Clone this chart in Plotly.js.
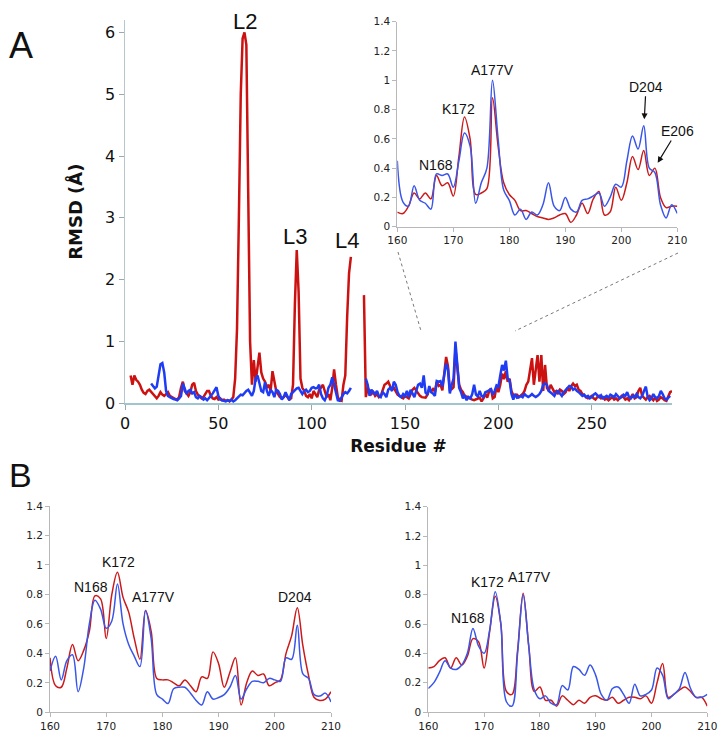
<!DOCTYPE html>
<html><head><meta charset="utf-8">
<script src="https://cdn.plot.ly/plotly-3.0.1.min.js"></script>
<style>html,body{margin:0;padding:0;background:#fff}#chart{width:726px;height:745px}</style>
</head><body><div id="chart"></div><script>
// ---------- Panel A (main), RMSD per residue ----------
// red series, residues 3..121
const redRun1Start = 3;
const redRun1 = [
  0.45,0.30,0.45,0.38,0.35,0.30,0.22,
  0.17,0.15,0.20,0.22,0.18,0.14,0.10,0.08,0.12,0.18,
  0.14,0.12,0.15,0.18,0.12,0.10,0.08,0.07,0.06,0.10,
  0.25,0.35,0.20,0.15,0.12,0.18,0.30,0.33,0.20,0.14,
  0.10,0.08,0.10,0.14,0.20,0.20,0.12,0.08,0.07,0.10,
  0.06,0.08,0.05,0.06,0.04,0.05,0.03,0.06,0.10,0.40,
  1.20,3.00,5.00,5.90,6.00,5.80,3.20,1.00,0.30,0.70,
  0.35,0.55,0.82,0.50,0.40,0.35,0.25,0.30,0.20,0.52,
  0.35,0.20,0.15,0.10,0.08,0.10,0.14,0.10,0.06,0.08,
  0.30,1.60,2.48,1.80,0.40,0.25,0.20,0.12,0.10,0.15,
  0.08,0.20,0.14,0.10,0.22,0.25,0.30,0.20,0.10,0.15,
  0.05,0.25,0.55,0.30,0.10,0.05,0.04,0.30,0.45,1.40,
  2.10,2.37
];
// red series, residues 128..159
const redRun2Start = 128;
const redRun2 = [
  1.75,0.10,
  0.25,0.20,0.15,0.18,0.12,0.15,0.10,0.12,0.20,0.30,
  0.32,0.35,0.28,0.22,0.25,0.20,0.14,0.12,0.10,0.08,
  0.12,0.10,0.08,0.15,0.22,0.25,0.20,0.15,0.12,0.10
];
// red series, residues 211..293
const redRun3Start = 211;
const redRun3 = [
  0.10,0.12,0.15,0.20,0.30,0.35,0.55,0.73,0.30,
  0.60,0.78,0.35,0.78,0.20,0.62,0.25,0.20,0.30,0.25,
  0.18,0.20,0.15,0.22,0.20,0.15,0.18,0.25,0.20,0.28,
  0.32,0.28,0.30,0.22,0.20,0.15,0.12,0.10,0.08,0.10,
  0.12,0.08,0.06,0.10,0.12,0.08,0.10,0.06,0.08,0.05,
  0.07,0.10,0.06,0.08,0.05,0.08,0.12,0.10,0.06,0.08,
  0.05,0.10,0.15,0.08,0.10,0.20,0.25,0.12,0.08,0.06,
  0.10,0.12,0.08,0.05,0.10,0.04,0.06,0.10,0.08,0.05,
  0.04,0.12,0.18,0.20
];
// blue series, residues 14..121
const blueRun1Start = 14;
const blueRun1 = [
  0.32,0.28,0.24,0.27,0.45,0.63,
  0.65,0.50,0.20,0.12,0.10,0.08,0.07,0.06,0.05,0.08,
  0.12,0.32,0.22,0.15,0.20,0.22,0.16,0.18,0.10,0.08,
  0.12,0.10,0.06,0.08,0.05,0.08,0.12,0.16,0.20,0.26,
  0.12,0.06,0.05,0.04,0.03,0.05,0.04,0.06,0.03,0.05,
  0.08,0.12,0.14,0.13,0.17,0.20,0.22,0.18,0.12,0.20,
  0.40,0.45,0.30,0.20,0.18,0.34,0.20,0.12,0.22,0.18,
  0.10,0.22,0.20,0.15,0.06,0.10,0.18,0.10,0.05,0.15,
  0.18,0.20,0.24,0.25,0.20,0.15,0.20,0.22,0.18,0.20,
  0.25,0.26,0.24,0.25,0.30,0.15,0.08,0.05,0.12,0.25,
  0.30,0.42,0.30,0.15,0.05,0.04,0.10,0.15,0.18,0.16,
  0.20,0.25
];
// blue series, residues 129..159
const blueRun2Start = 129;
const blueRun2 = [
  0.40,
  0.30,0.12,0.22,0.18,0.15,0.20,0.12,0.10,0.18,0.15,
  0.10,0.22,0.25,0.20,0.35,0.30,0.18,0.12,0.10,0.15,
  0.12,0.20,0.10,0.22,0.15,0.10,0.20,0.30,0.32,0.25
];
// blue series, residues 211..292
const blueRun3Start = 211;
const blueRun3 = [
  0.10,0.12,0.10,0.15,0.12,0.10,0.12,0.15,0.12,
  0.10,0.12,0.15,0.20,0.30,0.32,0.30,0.20,0.18,0.15,
  0.12,0.18,0.20,0.15,0.12,0.18,0.22,0.25,0.28,0.27,
  0.22,0.24,0.20,0.18,0.15,0.12,0.14,0.10,0.12,0.08,
  0.10,0.14,0.16,0.12,0.10,0.13,0.08,0.10,0.12,0.09,
  0.14,0.12,0.10,0.15,0.12,0.08,0.10,0.14,0.12,0.18,
  0.10,0.08,0.12,0.10,0.15,0.10,0.08,0.12,0.20,0.27,
  0.10,0.05,0.08,0.15,0.10,0.08,0.12,0.20,0.15,0.08,
  0.06,0.10,0.12
];
// ---------- Window residues 160..210 (inset of A, and the main curve there) ----------
const windowStart = 160;
const insetRed = [
  0.10,0.09,0.14,0.23,0.19,0.23,0.19,0.35,0.28,0.30,
  0.21,0.48,0.75,0.60,0.22,0.23,0.26,0.88,0.55,0.30,
  0.22,0.18,0.11,0.11,0.09,0.07,0.06,0.05,0.06,0.08,
  0.09,0.03,0.08,0.16,0.09,0.19,0.24,0.08,0.10,0.27,
  0.18,0.30,0.48,0.39,0.52,0.35,0.40,0.20,0.13,0.14,0.14
];
const insetBlue = [
  0.45,0.17,0.14,0.28,0.18,0.16,0.12,0.36,0.35,0.36,
  0.27,0.45,0.64,0.55,0.16,0.30,0.40,1.00,0.60,0.25,
  0.18,0.08,0.12,0.05,0.10,0.08,0.15,0.30,0.14,0.11,
  0.20,0.12,0.10,0.18,0.19,0.21,0.23,0.14,0.20,0.29,
  0.27,0.45,0.62,0.53,0.69,0.40,0.37,0.15,0.06,0.15,0.09
];
// ---------- Panel B left ----------
const bLeftRed = [
  0.37,0.18,0.17,0.30,0.46,0.35,0.42,0.55,0.79,0.77,
  0.50,0.80,0.95,0.78,0.68,0.50,0.36,0.69,0.55,0.23,
  0.22,0.22,0.20,0.18,0.22,0.18,0.14,0.24,0.23,0.41,
  0.33,0.17,0.27,0.37,0.05,0.20,0.28,0.25,0.26,0.18,
  0.20,0.22,0.40,0.52,0.71,0.45,0.25,0.10,0.08,0.09,0.14
];
const bLeftBlue = [
  0.28,0.38,0.22,0.35,0.39,0.14,0.30,0.60,0.76,0.70,
  0.57,0.62,0.87,0.60,0.46,0.38,0.31,0.69,0.50,0.12,
  0.09,0.06,0.16,0.17,0.17,0.13,0.08,0.05,0.14,0.09,
  0.10,0.12,0.17,0.25,0.09,0.16,0.21,0.21,0.20,0.23,
  0.22,0.21,0.37,0.36,0.59,0.26,0.23,0.12,0.11,0.13,0.07
];
// ---------- Panel B right ----------
const bRightRed = [
  0.30,0.31,0.35,0.37,0.30,0.37,0.32,0.38,0.50,0.48,
  0.30,0.55,0.79,0.60,0.14,0.12,0.42,0.81,0.45,0.14,
  0.17,0.08,0.08,0.04,0.11,0.08,0.05,0.08,0.06,0.10,
  0.11,0.09,0.08,0.10,0.06,0.08,0.10,0.10,0.09,0.11,
  0.06,0.20,0.33,0.10,0.12,0.15,0.17,0.14,0.10,0.10,0.04
];
const bRightBlue = [
  0.16,0.20,0.27,0.35,0.30,0.29,0.32,0.40,0.57,0.45,
  0.40,0.56,0.82,0.60,0.07,0.04,0.40,0.80,0.45,0.15,
  0.09,0.11,0.06,0.05,0.18,0.15,0.31,0.29,0.25,0.32,
  0.25,0.12,0.08,0.16,0.17,0.12,0.06,0.19,0.11,0.12,
  0.15,0.30,0.25,0.09,0.12,0.16,0.27,0.16,0.10,0.10,0.12
];
const mainXTicks = [0, 50, 100, 150, 200, 250];
const winXTicks = [160, 170, 180, 190, 200, 210];

// ---------- build ----------
function xsFrom(start, arr){ return arr.map((_, i) => start + i); }
function joinRuns(runs){
  const x = [], y = [];
  runs.forEach((r, k) => {
    if (k > 0 && r[0] !== x[x.length-1] + 1) { x.push(r[0] - 0.5); y.push(null); }
    xsFrom(r[0], r[1]).forEach((v, i) => { x.push(v); y.push(r[1][i]); });
  });
  return {x, y};
}
const redMain = joinRuns([[redRun1Start, redRun1],[redRun2Start, redRun2],[windowStart, insetRed],[redRun3Start, redRun3]]);
const blueMain = joinRuns([[blueRun1Start, blueRun1],[blueRun2Start, blueRun2],[windowStart, insetBlue],[blueRun3Start, blueRun3]]);

const RED = '#cc1111', BLUE = '#1f3cf5';
const RED2 = '#cc1a1a', BLUE2 = '#3a56e8';
const winX = xsFrom(windowStart, insetRed);

const traces = [
  {x: redMain.x, y: redMain.y, xaxis:'x', yaxis:'y', mode:'lines', line:{color:RED, width:2.5}, connectgaps:false},
  {x: blueMain.x, y: blueMain.y, xaxis:'x', yaxis:'y', mode:'lines', line:{color:BLUE, width:2.5}, connectgaps:false},
  {x: winX, y: insetRed, xaxis:'x2', yaxis:'y2', mode:'lines', line:{color:RED2, width:1.5, shape:'spline', smoothing:1}},
  {x: winX, y: insetBlue, xaxis:'x2', yaxis:'y2', mode:'lines', line:{color:BLUE2, width:1.5, shape:'spline', smoothing:1}},
  {x: winX, y: bLeftRed, xaxis:'x3', yaxis:'y3', mode:'lines', line:{color:RED2, width:1.5, shape:'spline', smoothing:1}},
  {x: winX, y: bLeftBlue, xaxis:'x3', yaxis:'y3', mode:'lines', line:{color:BLUE2, width:1.5, shape:'spline', smoothing:1}},
  {x: winX, y: bRightRed, xaxis:'x4', yaxis:'y4', mode:'lines', line:{color:RED2, width:1.5, shape:'spline', smoothing:1}},
  {x: winX, y: bRightBlue, xaxis:'x4', yaxis:'y4', mode:'lines', line:{color:BLUE2, width:1.5, shape:'spline', smoothing:1}}
];

const W = 726, H = 745;
const px = v => v / W, py = v => 1 - v / H;
const TICKF = 'DejaVu Sans, sans-serif';
const ARIAL = 'Liberation Sans, Arial, sans-serif';

function smallX(dom, anchor){
  return {domain: dom, anchor: anchor, range:[160,210], tickvals: winXTicks, showline:true, linecolor:'#b8b8b8', linewidth:1,
    ticks:'outside', ticklen:4, tickcolor:'#b8b8b8', showgrid:false, zeroline:false,
    tickfont:{family:'DejaVu Sans, sans-serif', size:10.5, color:'#222'}};
}
function smallY(dom, anchor){
  return {domain: dom, anchor: anchor, range:[0,1.4], dtick:0.2, tick0:0, showline:true, linecolor:'#b8b8b8', linewidth:1,
    ticks:'outside', ticklen:4, tickcolor:'#b8b8b8', showgrid:false, zeroline:false,
    tickfont:{family:'DejaVu Sans, sans-serif', size:10.5, color:'#222'}};
}

function lab(text, x, y, size, extra){
  return Object.assign({text: text, xref:'paper', yref:'paper', x: px(x), y: py(y), xanchor:'center', yanchor:'middle',
    showarrow:false, font:{family: ARIAL, size: size, color:'#111'}}, extra || {});
}

const annotations = [
  lab('A', 21, 45, 36),
  lab('B', 20, 475, 34),
  lab('L2', 245, 21, 22),
  lab('L3', 295, 236, 22),
  lab('L4', 347, 241, 22),
  lab('N168', 435.5, 164.7, 14),
  lab('K172', 458, 108.7, 14),
  lab('A177V', 492.7, 70.5, 14),
  {text:'D204', xref:'paper', yref:'paper', x: px(644.3), y: py(119.3), ax: 1.7, ay: -32.6,
    showarrow:true, arrowhead:2, arrowsize:1, arrowwidth:1.2, arrowcolor:'#111', font:{family:ARIAL, size:14, color:'#111'}},
  {text:'E206', xref:'paper', yref:'paper', x: px(657.7), y: py(162.7), ax: 19.3, ay: -31.7,
    showarrow:true, arrowhead:2, arrowsize:1, arrowwidth:1.2, arrowcolor:'#111', font:{family:ARIAL, size:14, color:'#111'}},
  lab('N168', 91.3, 586.7, 14),
  lab('K172', 118.7, 562, 14),
  lab('A177V', 153.3, 597, 14),
  lab('D204', 294.7, 597, 14),
  lab('N168', 467.8, 618, 14),
  lab('K172', 487.3, 581.7, 14),
  lab('A177V', 529.5, 577, 14)
];

const shapes = [
  {type:'line', xref:'paper', yref:'paper', x0: px(398), y0: py(252), x1: px(421), y1: py(331), line:{color:'#555', width:0.8, dash:'dot'}},
  {type:'line', xref:'paper', yref:'paper', x0: px(678), y0: py(253), x1: px(515), y1: py(331), line:{color:'#555', width:0.8, dash:'dot'}}
];

const layout = {
  width: W, height: H, margin:{l:0, r:0, t:0, b:0}, showlegend:false,
  paper_bgcolor:'#fff', plot_bgcolor:'rgba(0,0,0,0)',
  xaxis: {domain:[px(125), px(672)], anchor:'y', range:[0,293], tickvals: mainXTicks, showline:true, linecolor:'#9fc6cf', linewidth:1.5,
    ticks:'outside', ticklen:5, tickcolor:'#9aa', showgrid:false, zeroline:false,
    tickfont:{family:TICKF, size:16, color:'#111'},
    title:{text:'Residue #', font:{family:TICKF, size:17, weight:'bold', color:'#111'}, standoff:8}},
  yaxis: {domain:[py(403.3), py(20)], anchor:'x', range:[0,6.2], dtick:1, tick0:0, showline:true, linecolor:'#b7c7cb', linewidth:1.5,
    ticks:'outside', ticklen:5, tickcolor:'#9aa', showgrid:false, zeroline:false,
    tickfont:{family:TICKF, size:16, color:'#111'},
    title:{text:'RMSD (Å)', font:{family:TICKF, size:18, weight:'bold', color:'#111'}, standoff:18}},
  xaxis2: smallX([px(397.3), px(677.3)], 'y2'),
  yaxis2: smallY([py(226.7), py(21.7)], 'x2'),
  xaxis3: smallX([px(50), px(331)], 'y3'),
  yaxis3: smallY([py(712.3), py(506)], 'x3'),
  xaxis4: smallX([px(428.3), px(707.3)], 'y4'),
  yaxis4: smallY([py(712), py(506.7)], 'x4'),
  annotations: annotations,
  shapes: shapes
};

Plotly.newPlot('chart', traces, layout, {displayModeBar:false, staticPlot:true});
</script></body></html>
